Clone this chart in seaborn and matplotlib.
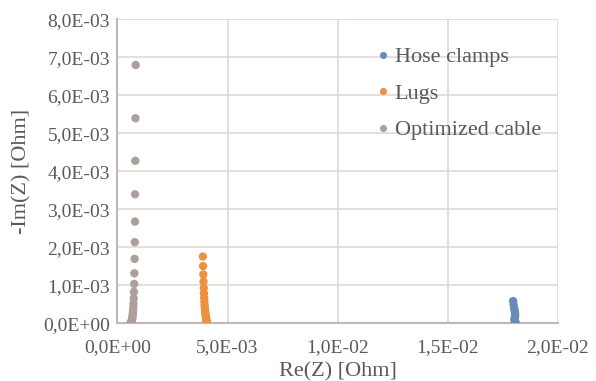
import numpy as np
import pandas as pd
import matplotlib
matplotlib.use("Agg")
import matplotlib.pyplot as plt
from matplotlib.ticker import FuncFormatter, MultipleLocator
import seaborn as sns

# Nyquist data: real and (negative) imaginary impedance in Ohm
hose_re = [0.01797, 0.01799, 0.01801, 0.01803, 0.01805, 0.01806, 0.01806,
           0.01805, 0.01804, 0.01803, 0.01804, 0.01806, 0.01807, 0.01806, 0.01805]
hose_im = [0.00059, 0.00050, 0.00042, 0.00036, 0.00030, 0.00025, 0.00020,
           0.00016, 0.00013, 0.00010, 0.00008, 0.00006, 0.00004, 0.00002, 0.00001]

lugs_re = [0.00388, 0.00389, 0.00390, 0.00391, 0.00392, 0.00393, 0.00394, 0.00395,
           0.00396, 0.00397, 0.00398, 0.00399, 0.00400, 0.00401, 0.00402, 0.00403,
           0.00403, 0.00404, 0.00404, 0.00405, 0.00405, 0.00405, 0.00405]
lugs_im = [0.00176, 0.00151, 0.00129, 0.00110, 0.00093, 0.00079, 0.00067, 0.00057,
           0.00048, 0.00041, 0.00035, 0.00029, 0.00024, 0.00020, 0.00016, 0.00013,
           0.00010, 0.00008, 0.00006, 0.00004, 0.00003, 0.00002, 0.00001]

opt_re = [0.00083, 0.00082, 0.00081, 0.00080, 0.00080, 0.00079, 0.00078, 0.00077,
          0.00076, 0.00075, 0.00074, 0.00073, 0.00072, 0.00071, 0.00070, 0.00069,
          0.00068, 0.00067, 0.00066, 0.00065, 0.00064, 0.00063, 0.00062, 0.00061,
          0.00060, 0.00059]
opt_im = [0.00680, 0.00540, 0.00428, 0.00340, 0.00268, 0.00214, 0.00170, 0.00132,
          0.00104, 0.00083, 0.00066, 0.00052, 0.00041, 0.00033, 0.00026, 0.00020,
          0.00016, 0.00012, 0.00009, 0.00007, 0.00005, 0.000035, 0.000025, 0.000015,
          0.000008, 0.000003]

series_names = ["Hose clamps", "Lugs", "Optimized cable"]
series_colors = ["#6A8BB8", "#EE913C", "#ADA09A"]

df = pd.concat([
    pd.DataFrame({"re": hose_re, "im": hose_im, "series": series_names[0]}),
    pd.DataFrame({"re": lugs_re, "im": lugs_im, "series": series_names[1]}),
    pd.DataFrame({"re": opt_re, "im": opt_im, "series": series_names[2]}),
])

sns.set_theme(style="white")
plt.rcParams["font.family"] = ["Liberation Serif", "DejaVu Serif"]
text_color = "#595959"

fig = plt.figure(figsize=(5.96, 3.81), dpi=100)
ax = fig.add_axes([0.197, 0.151, 0.739, 0.798])

sns.scatterplot(data=df, x="re", y="im", hue="series", hue_order=series_names,
                palette=series_colors, s=36, edgecolor="none", linewidth=0,
                ax=ax, zorder=3)

ax.set_xlim(0, 0.02)
ax.set_ylim(0, 0.008)
ax.xaxis.set_major_locator(MultipleLocator(0.005))
ax.yaxis.set_major_locator(MultipleLocator(0.001))

def sci_comma(v, pos):
    return f"{v:.1E}".replace(".", ",")

ax.xaxis.set_major_formatter(FuncFormatter(sci_comma))
ax.yaxis.set_major_formatter(FuncFormatter(sci_comma))

ax.grid(True, color="#DCD5D3", linewidth=1.1, zorder=0)
ax.set_axisbelow(True)
for side in ["top", "right"]:
    ax.spines[side].set_visible(False)
for side in ["left", "bottom"]:
    ax.spines[side].set_color("#C2B7B3")
    ax.spines[side].set_linewidth(1.5)

ax.tick_params(axis="both", length=0, labelsize=14, colors=text_color)
ax.tick_params(axis="x", pad=11)
ax.tick_params(axis="y", pad=5.5)

ax.set_xlabel("Re(Z) [Ohm]", fontsize=16, color=text_color, labelpad=5)
ax.set_ylabel("-Im(Z) [Ohm]", fontsize=16, color=text_color, labelpad=8)

leg = ax.legend(loc="upper left", bbox_to_anchor=(0.5875, 0.91), frameon=False,
                fontsize=16, labelcolor=text_color, handlelength=0.6,
                handletextpad=0.24, labelspacing=0.72, markerscale=0.85,
                borderaxespad=0, borderpad=0)

fig.savefig("out.png", dpi=100, facecolor="white")
